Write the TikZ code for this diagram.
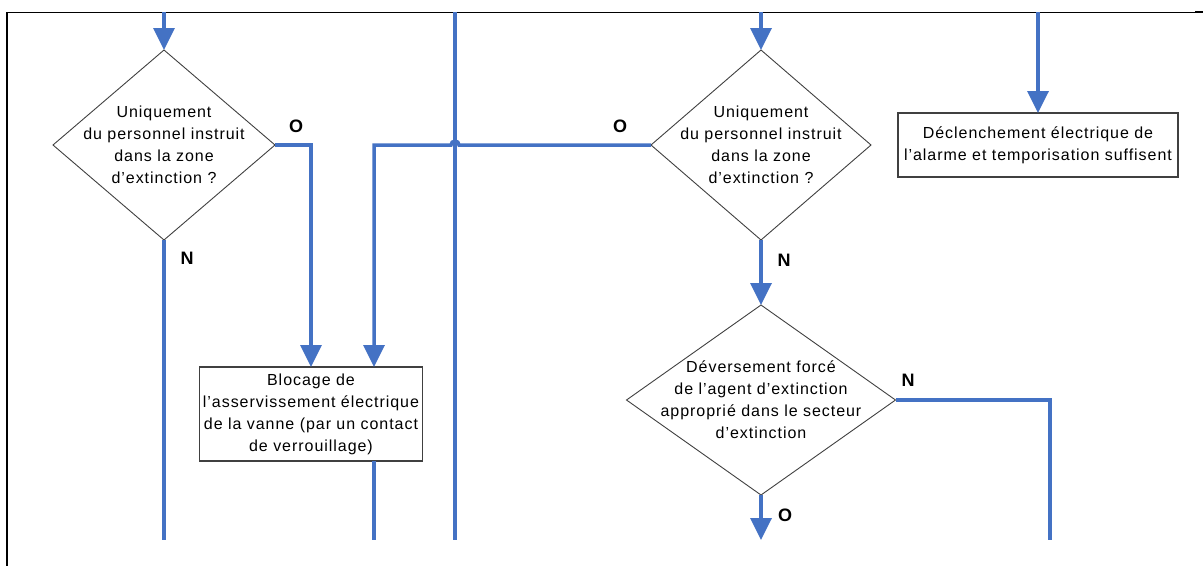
\documentclass[tikz,border=0pt]{standalone}
\usepackage{fontspec}
\setmainfont{Liberation Sans}
\newfontfamily\flowfont[LetterSpace=6]{Liberation Sans}
\usetikzlibrary{arrows,shapes,arrows.meta}
\definecolor{flowblue}{RGB}{68,114,196}
\definecolor{edgegray}{RGB}{64,64,64}
\tikzstyle{decision}=[diamond, draw=edgegray
,line width=0.9pt
,inner sep=-30pt, outer sep=0pt
,align=center, font=\flowfont\fontsize{16}{22}\selectfont
]
\tikzstyle{action}=[rectangle, draw=edgegray
,line width=1.4pt
,inner sep=0pt, outer sep=0pt
,align=center, font=\flowfont\fontsize{16}{22}\selectfont
]
\tikzstyle{answer}=[font=\fontsize{18}{18}\selectfont\bfseries]
\tikzstyle{flow} = [draw=flowblue, line width=3.5pt]
\tikzstyle{flowarrow} = [flow, -{Triangle[width=21pt,length=22pt]}]

\begin{document}
\begin{tikzpicture}[x=1pt,y=-1pt]
    \useasboundingbox (0,0) rectangle (1203,566);
    % frame of the page
    \draw[line width=2pt] (7,12) -- (7,566);
    \draw[line width=1pt] (7,12) -- (1203,12);
    \draw[line width=2.5pt] (1195,12) -- (1203,12);

    % decisions and actions
    \node[decision, minimum width=222pt, minimum height=190pt] (zone1) at (164,145)
        {Uniquement\\du personnel instruit\\dans la zone\\d’extinction ?};
    \node[decision, minimum width=220pt, minimum height=190pt] (zone2) at (761,145)
        {Uniquement\\du personnel instruit\\dans la zone\\d’extinction ?};
    \node[decision, minimum width=269pt, minimum height=190pt] (deversement) at (761,400)
        {Déversement forcé\\de l’agent d’extinction\\approprié dans le secteur\\d’extinction};
    \node[action, minimum width=223pt, minimum height=94pt] (blocage) at (311,414)
        {Blocage de\\l’asservissement électrique\\de la vanne (par un contact\\de verrouillage)};
    \node[action, minimum width=280pt, minimum height=64pt] (alarme) at (1038,145)
        {Déclenchement électrique de\\l’alarme et temporisation suffisent};

    % answers
    \foreach \pos/\name/\txt in {{(296,126)/o1/O}, {(187,258)/n1/N}, {(620,126)/o2/O}, {(784,260)/n2/N}, {(908,380)/n3/N}, {(785,515)/o3/O}}
        \node[answer] (\name) at \pos {\txt};

    % free ends of the connectors
    \foreach \pos/\name in {{(164,12)/in1}, {(761,12)/in2}, {(1038,12)/in3}, {(455,12)/pass1}, {(455,540)/pass2}, {(164,540)/out1}, {(374,540)/out2}, {(761,540)/out3}, {(1050,540)/out4}, {(459,145)/hop}, {(374,145)/bend}}
        \path \pos coordinate (\name);

    % connectors
    \foreach \source/ \dest in {in1/zone1.north, in2/zone2.north, in3/alarme.north, zone2.south/deversement.north, deversement.south/out3}
        \path[flowarrow] (\source) -- (\dest);
    \path[flow] (pass1) -- (pass2);
    \path[flow] (zone1.south) -- (out1);
    \path[flowarrow] (zone1.east) -| (blocage.north);
    \path[flowarrow] (zone2.west) -- (hop) arc[start angle=0, end angle=180, radius=4pt] -- (bend) -- (blocage.north -| bend);
    \path[flow] (blocage.south -| out2) -- (out2);
    \path[flow] (deversement.east) -| (out4);
\end{tikzpicture}
\end{document}
